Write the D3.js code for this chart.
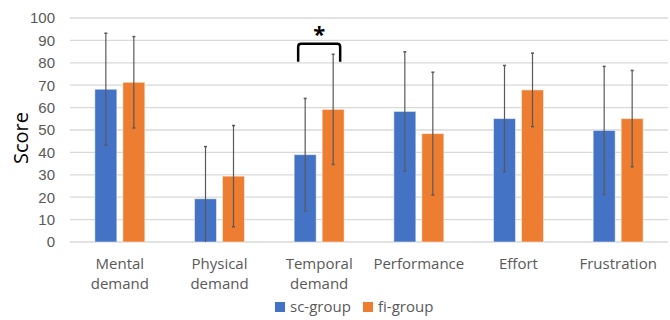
<!DOCTYPE html>
<html>
<head>
<meta charset="utf-8">
<script src="https://cdn.jsdelivr.net/npm/d3@7"></script>
<style>
  body { margin: 0; background: #fff; }
  svg { font-family: "Open Sans", "Noto Sans", sans-serif; }
</style>
</head>
<body>
<svg id="chart" width="670" height="320"></svg>
<script>
"use strict";

// categories and series (mean, std dev)
var categories = ["Mental demand", "Physical demand", "Temporal demand", "Performance", "Effort", "Frustration"];
var groups = ["sc-group", "fi-group"];
var scMeans = [68.2, 19.3, 39.0, 58.3, 55.1, 49.8];
var scErrors = [25.0, 23.3, 25.1, 26.6, 23.7, 28.6];
var fiMeans = [71.3, 29.4, 59.2, 48.4, 67.9, 55.1];
var fiErrors = [20.4, 22.6, 24.6, 27.4, 16.4, 21.5];
var yTicks = [0, 10, 20, 30, 40, 50, 60, 70, 80, 90, 100];

var colors = { "sc-group": "#4472C4", "fi-group": "#ED7D31" };

var svg = d3.select("#chart");
var margin = { left: 70, right: 2, top: 18, bottom: 78 };
var width = 670 - margin.left - margin.right;
var height = 320 - margin.top - margin.bottom;

var rows = [];
categories.forEach(function(c, i) {
  rows.push({ cat: c, group: "sc-group", value: scMeans[i], err: scErrors[i] });
  rows.push({ cat: c, group: "fi-group", value: fiMeans[i], err: fiErrors[i] });
});

var x0 = d3.scaleBand().domain(categories).range([0, width]).padding(0);
var x1 = d3.scaleBand().domain(groups).range([0, 50]).paddingInner(0.214).paddingOuter(0);
var y = d3.scaleLinear().domain([0, 100]).range([height, 0]);

var g = svg.append("g").attr("transform", "translate(" + margin.left + "," + margin.top + ")");

// grid
g.append("g").selectAll("line")
  .data(yTicks)
  .enter().append("line")
  .attr("x1", 0).attr("x2", width)
  .attr("y1", function(d) { return y(d); })
  .attr("y2", function(d) { return y(d); })
  .attr("stroke", "#d9d9d9")
  .attr("stroke-width", 1.3);

// y tick labels
var yAxis = g.append("g").call(d3.axisLeft(y).tickValues(yTicks).tickSize(0).tickPadding(15));
yAxis.select(".domain").remove();
yAxis.selectAll("text").attr("fill", "#595959").style("font-size", "15px");

// bars
var bars = g.append("g").selectAll("g")
  .data(rows)
  .enter().append("g")
  .attr("transform", function(d) {
    return "translate(" + (x0(d.cat) + x0.bandwidth() / 2 - 25 + x1(d.group)) + ",0)";
  });

bars.append("rect")
  .attr("x", 0)
  .attr("y", function(d) { return y(d.value); })
  .attr("width", x1.bandwidth())
  .attr("height", function(d) { return y(0) - y(d.value); })
  .attr("fill", function(d) { return colors[d.group]; })
  .attr("stroke", "#ffffff")
  .attr("stroke-opacity", 0.5)
  .attr("stroke-width", 1);

// error bars
var cx = x1.bandwidth() / 2;
bars.append("line")
  .attr("x1", cx).attr("x2", cx)
  .attr("y1", function(d) { return y(Math.min(100, d.value + d.err)); })
  .attr("y2", function(d) { return y(Math.max(0, d.value - d.err)); })
  .attr("stroke", "#595959")
  .attr("stroke-width", 1.2);

bars.append("line")
  .attr("x1", cx - 1.5).attr("x2", cx + 1.5)
  .attr("y1", function(d) { return y(d.value + d.err); })
  .attr("y2", function(d) { return y(d.value + d.err); })
  .attr("stroke", "#595959")
  .attr("stroke-width", 1.5);

bars.filter(function(d) { return d.value - d.err > 0; })
  .append("line")
  .attr("x1", cx - 1.5).attr("x2", cx + 1.5)
  .attr("y1", function(d) { return y(d.value - d.err); })
  .attr("y2", function(d) { return y(d.value - d.err); })
  .attr("stroke", "#595959")
  .attr("stroke-width", 1.5);

// category labels
var catLabels = g.append("g").selectAll("text")
  .data(categories)
  .enter().append("text")
  .attr("x", function(d) { return x0(d) + x0.bandwidth() / 2; })
  .attr("y", height + 27)
  .attr("text-anchor", "middle")
  .attr("fill", "#595959")
  .style("font-size", "15px");

catLabels.each(function(d) {
  var parts = d.split(" ");
  var t = d3.select(this);
  parts.forEach(function(p, i) {
    t.append("tspan")
      .attr("x", x0(d) + x0.bandwidth() / 2)
      .attr("dy", i === 0 ? 0 : 19.5)
      .text(p);
  });
});

// significance bracket on Temporal demand
var tIdx = 2;
var bx1 = x0(categories[tIdx]) + x0.bandwidth() / 2 - 21;
var bx2 = x0(categories[tIdx]) + x0.bandwidth() / 2 + 21;
var topY = y(88.5);
var botY = y(80.5);
var r = 3;
g.append("path")
  .attr("d", "M" + bx1 + "," + botY + " L" + bx1 + "," + (topY + r) +
    " Q" + bx1 + "," + topY + " " + (bx1 + r) + "," + topY +
    " L" + (bx2 - r) + "," + topY +
    " Q" + bx2 + "," + topY + " " + bx2 + "," + (topY + r) +
    " L" + bx2 + "," + botY)
  .attr("fill", "none")
  .attr("stroke", "#000")
  .attr("stroke-width", 2.5);

g.append("text")
  .attr("x", (bx1 + bx2) / 2)
  .attr("y", y(88.5) - 2)
  .attr("text-anchor", "middle")
  .style("font-size", "22px")
  .style("font-weight", "bold")
  .text("*");

// y axis title
svg.append("text")
  .attr("transform", "translate(28,138) rotate(-90)")
  .attr("text-anchor", "middle")
  .style("font-size", "20px")
  .attr("fill", "#000")
  .text("Score");

// legend
var legend = svg.append("g").attr("transform", "translate(275,302)");
var legendItems = legend.selectAll("g")
  .data(groups)
  .enter().append("g")
  .attr("transform", function(d, i) { return "translate(" + (i * 88) + ",0)"; });

legendItems.append("rect")
  .attr("width", 10).attr("height", 10)
  .attr("fill", function(d) { return colors[d]; });

legendItems.append("text")
  .attr("x", 15).attr("y", 10)
  .attr("fill", "#595959")
  .style("font-size", "15px")
  .text(function(d) { return d; });
</script>
</body>
</html>
